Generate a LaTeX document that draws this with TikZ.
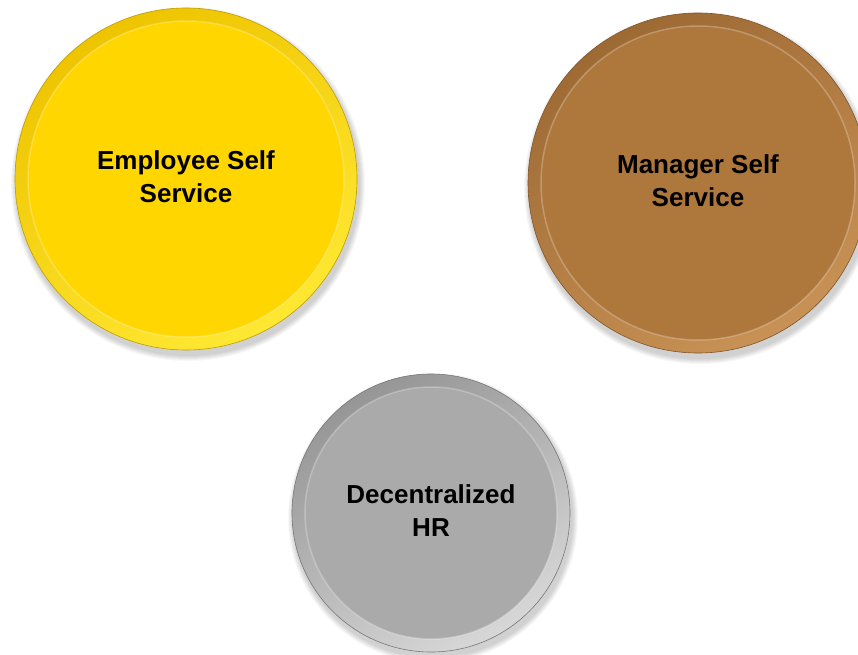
\documentclass[tikz,border=0pt]{standalone}
\usepackage{fontspec}
\setmainfont{Liberation Sans}
\definecolor{goldbase}{RGB}{255,214,0}
\definecolor{golddark}{RGB}{238,196,0}
\definecolor{goldlight}{RGB}{255,232,50}
\definecolor{bronzebase}{RGB}{174,119,60}
\definecolor{bronzedark}{RGB}{158,106,52}
\definecolor{bronzelight}{RGB}{200,145,85}
\definecolor{silverbase}{RGB}{170,170,170}
\definecolor{silverdark}{RGB}{150,150,150}
\definecolor{silverlight}{RGB}{215,215,215}
\tikzset{
  disclabel/.style={align=center, text=black,
    font=\bfseries\fontsize{26}{33}\selectfont, inner sep=0pt}
}
% name, x, y, radius, base, rim dark, rim light, label
\newcommand\hrdisc[8]{%
  \foreach \k in {1,...,6}
    \fill[black,opacity=0.03] (#2+2,#3-5) circle ({#4+\k});
  \shade[top color=#6, bottom color=#7, shading angle=30] (#2,#3) circle (#4);
  \fill[#5] (#2,#3) circle (#4-13);
  \draw[white,opacity=0.25,line width=1.5pt] (#2,#3) circle (#4-13);
  \draw[#6!80!black,line width=0.6pt] (#2,#3) circle (#4);
  \node[disclabel] (#1) at (#2,#3+2) {#8};
}
\begin{document}
\begin{tikzpicture}[x=1pt,y=1pt]
\useasboundingbox (0,0) rectangle (858,654);
\clip (0,0) rectangle (858,654);
\fill[white] (0,0) rectangle (858,654);
\hrdisc{ess}{186}{475}{171}{goldbase}{golddark}{goldlight}{Employee Self\\Service}
\hrdisc{mss}{698}{471}{170}{bronzebase}{bronzedark}{bronzelight}{Manager Self\\Service}
\hrdisc{dhr}{431}{141}{139}{silverbase}{silverdark}{silverlight}{Decentralized\\HR}
\end{tikzpicture}
\end{document}
